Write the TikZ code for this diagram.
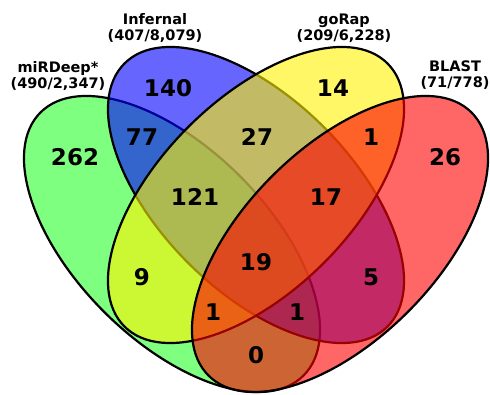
\documentclass[tikz,border=0pt]{standalone}
\usepackage{fontspec}
\setmainfont{DejaVu Sans}
\begin{document}
\begin{tikzpicture}[x=1pt,y=1pt,
  setfill/.style={line width=2.2pt, draw=black, fill opacity=#1},
  num/.style={font=\fontsize{23}{25}\selectfont\bfseries, inner sep=0pt},
  lab/.style={font=\fontsize{14.5}{15.5}\selectfont\bfseries, align=center, inner sep=0pt}]
\useasboundingbox (0,0) rectangle (490,394);
% ellipses: green, blue, yellow, red
\coordinate (cg) at (172,150);
\coordinate (cr) at (340,150);
\coordinate (cm) at (256,199);
\filldraw[setfill=0.5, fill=green, rotate around={-45:(cg)}] (cg) ellipse [x radius=186, y radius=96];
\filldraw[setfill=0.6, fill=blue, rotate around={-45:(cm)}] (cm) ellipse [x radius=186, y radius=96];
\filldraw[setfill=0.6, fill=yellow, rotate around={45:(cm)}] (cm) ellipse [x radius=186, y radius=96];
\filldraw[setfill=0.6, fill=red, rotate around={45:(cr)}] (cr) ellipse [x radius=186, y radius=96];
% labels
\node[lab] (lmir) at (58,318) {miRDeep*\\(490/2,347)};
\node[lab] (linf) at (155,366) {Infernal\\(407/8,079)};
\node[lab] (lgor) at (344,366) {goRap\\(209/6,228)};
\node[lab] (lbla) at (455,319) {BLAST\\(71/778)};
% numbers
\node[num] (n1) at (168,306) {140};
\node[num] (n2) at (333,306) {14};
\node[num] (n3) at (75,237) {262};
\node[num] (n4) at (142,257) {77};
\node[num] (n5) at (257,257) {27};
\node[num] (n6) at (371,257) {1};
\node[num] (n7) at (445,237) {26};
\node[num] (n8) at (195,197) {121};
\node[num] (n9) at (326,197) {17};
\node[num] (n10) at (142,117) {9};
\node[num] (n11) at (256,132) {19};
\node[num] (n12) at (371,117) {5};
\node[num] (n13) at (213,82) {1};
\node[num] (n14) at (297,82) {1};
\node[num] (n15) at (256,39) {0};
\end{tikzpicture}
\end{document}
